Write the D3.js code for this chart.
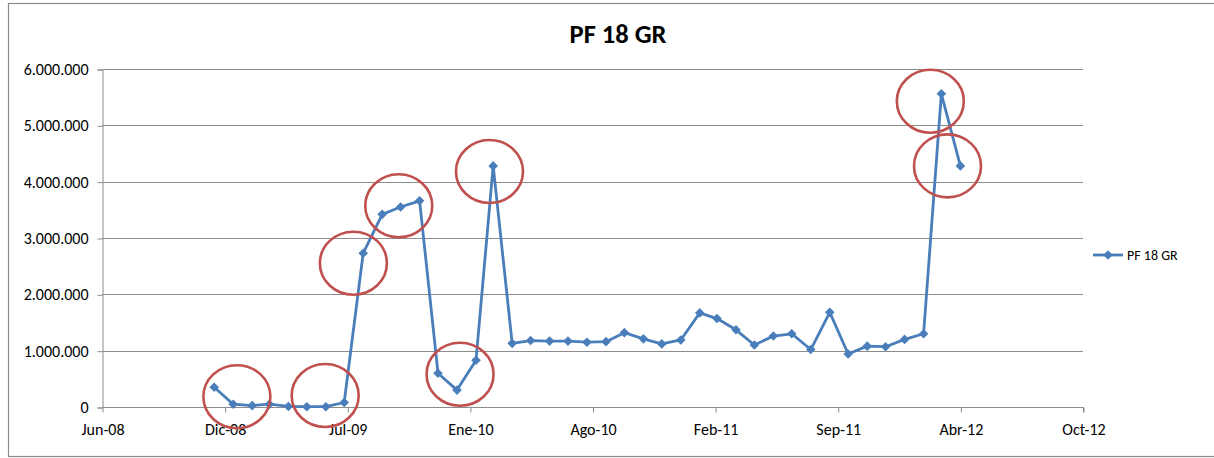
<!DOCTYPE html>
<html>
<head>
<meta charset="utf-8">
<script src="https://cdn.jsdelivr.net/npm/d3@7"></script>
<style>
  html, body { margin: 0; padding: 0; background: #fff; }
  svg { display: block; font-family: Calibri, Carlito, Lato, "Noto Sans", sans-serif; }
</style>
</head>
<body>
<svg id="chart" width="1214" height="458"></svg>
<script>
// Data: one value per month, Dic-08 .. Abr-12
var months = ["2008-12", "2009-01", "2009-02", "2009-03", "2009-04", "2009-05", "2009-06",
  "2009-07", "2009-08", "2009-09", "2009-10", "2009-11", "2009-12", "2010-01", "2010-02",
  "2010-03", "2010-04", "2010-05", "2010-06", "2010-07", "2010-08", "2010-09", "2010-10",
  "2010-11", "2010-12", "2011-01", "2011-02", "2011-03", "2011-04", "2011-05", "2011-06",
  "2011-07", "2011-08", "2011-09", "2011-10", "2011-11", "2011-12", "2012-01", "2012-02",
  "2012-03", "2012-04"];
var values = [350000, 50000, 25000, 50000, 10000, 5000, 5000,
  80000, 2730000, 3420000, 3550000, 3660000, 600000, 300000, 830000,
  4280000, 1130000, 1180000, 1170000, 1170000, 1150000, 1160000, 1320000,
  1210000, 1120000, 1190000, 1670000, 1570000, 1370000, 1100000, 1260000,
  1300000, 1020000, 1680000, 940000, 1080000, 1070000, 1200000, 1300000,
  5560000, 4280000];
var seriesName = "PF 18 GR";

// x axis: Excel date axis, one label every 200 days from Jun-08
var tickLabels = ["Jun-08", "Dic-08", "Jul-09", "Ene-10", "Ago-10", "Feb-11", "Sep-11", "Abr-12", "Oct-12"];
var yTicks = [0, 1000000, 2000000, 3000000, 4000000, 5000000, 6000000];

// hand drawn red circles (centre date, centre value)
var marks = [
  ["2009-01-07", 183000], ["2009-05-31", 204000], ["2009-07-16", 2553000],
  ["2009-09-28", 3572000], ["2010-01-06", 582000], ["2010-02-23", 4180000],
  ["2012-02-12", 5427000], ["2012-03-11", 4280000]
];

var svg = d3.select("#chart");
var plotLeft = 102, plotRight = 1083, plotTop = 69, plotBottom = 407;

var start = new Date(Date.UTC(2008, 5, 1));
var dayMs = 86400000;
var tickDates = tickLabels.map(function(d, i) { return new Date(start.getTime() + i * 200 * dayMs); });

var x = d3.scaleUtc().domain([tickDates[0], tickDates[tickDates.length - 1]]).range([plotLeft, plotRight]);
var y = d3.scaleLinear().domain([0, 6000000]).range([plotBottom, plotTop]);

var parse = d3.utcParse("%Y-%m-%d");
var data = months.map(function(m, i) { return { date: parse(m + "-01"), value: values[i] }; });

// outer chart border
svg.append("rect")
  .attr("x", 8.5).attr("y", 3.5).attr("width", 1214).attr("height", 453)
  .attr("fill", "none").attr("stroke", "#8a8a8a").attr("stroke-width", 1.2);

// title
svg.append("text")
  .attr("x", 618).attr("y", 43)
  .attr("text-anchor", "middle")
  .style("font-size", "26.5px").style("font-weight", "bold").style("fill", "#000")
  .text(seriesName);

// gridlines
svg.append("g").selectAll("line")
  .data(yTicks.slice(1))
  .enter().append("line")
  .attr("x1", plotLeft).attr("x2", plotRight)
  .attr("y1", function(d) { return Math.round(y(d)) + 0.5; })
  .attr("y2", function(d) { return Math.round(y(d)) + 0.5; })
  .attr("stroke", "#8c8c8c").attr("stroke-width", 1);

// y axis
var yAxis = svg.append("g")
  .attr("transform", "translate(" + (plotLeft + 0.5) + ",0.5)")
  .call(d3.axisLeft(y).tickValues(yTicks).tickSize(5).tickPadding(9)
    .tickFormat(function(d) { return d3.format(",")(d).replace(/,/g, "."); }));

// x axis
var xAxis = svg.append("g")
  .attr("transform", "translate(0.5," + (plotBottom + 0.5) + ")")
  .call(d3.axisBottom(x).tickValues(tickDates).tickSize(5).tickPadding(11)
    .tickFormat(function(d, i) { return tickLabels[i]; }));

[yAxis, xAxis].forEach(function(a) {
  a.select(".domain").attr("stroke", "#8c8c8c");
  a.selectAll(".tick line").attr("stroke", "#8c8c8c");
  a.selectAll("text").style("font-size", "16px").style("fill", "#000")
    .style("font-family", "Calibri, Carlito, Lato, 'Noto Sans', sans-serif");
});
xAxis.select(".domain").attr("d", "M" + plotLeft + ",0H" + plotRight + "V5");

// series line
var line = d3.line()
  .x(function(d) { return x(d.date); })
  .y(function(d) { return y(d.value); });

svg.append("path")
  .datum(data)
  .attr("d", line)
  .attr("fill", "none")
  .attr("stroke", "#4A7EBB")
  .attr("stroke-width", 2.8)
  .attr("stroke-linejoin", "round");

function diamond(cx, cy, r) {
  return "M" + cx + "," + (cy - r) + "L" + (cx + r) + "," + cy + "L" + cx + "," + (cy + r) + "L" + (cx - r) + "," + cy + "Z";
}

svg.append("g").selectAll("path")
  .data(data)
  .enter().append("path")
  .attr("d", function(d) { return diamond(x(d.date), y(d.value), 4.8); })
  .attr("fill", "#4A7EBB");

// red circles
svg.append("g").selectAll("ellipse")
  .data(marks)
  .enter().append("ellipse")
  .attr("cx", function(d) { return x(parse(d[0])); })
  .attr("cy", function(d) { return y(d[1]); })
  .attr("rx", 33.5).attr("ry", 31.5)
  .attr("fill", "none")
  .attr("stroke", "#C0504D")
  .attr("stroke-width", 2.6);

// legend
var lg = svg.append("g").attr("transform", "translate(1093,255)");
lg.append("line").attr("x1", 0).attr("x2", 30).attr("y1", 0).attr("y2", 0)
  .attr("stroke", "#4A7EBB").attr("stroke-width", 2.8);
lg.append("path").attr("d", diamond(15, 0, 4.8)).attr("fill", "#4A7EBB");
lg.append("text").attr("x", 34).attr("y", 5)
  .style("font-size", "14px").style("fill", "#000")
  .text(seriesName);
</script>
</body>
</html>
